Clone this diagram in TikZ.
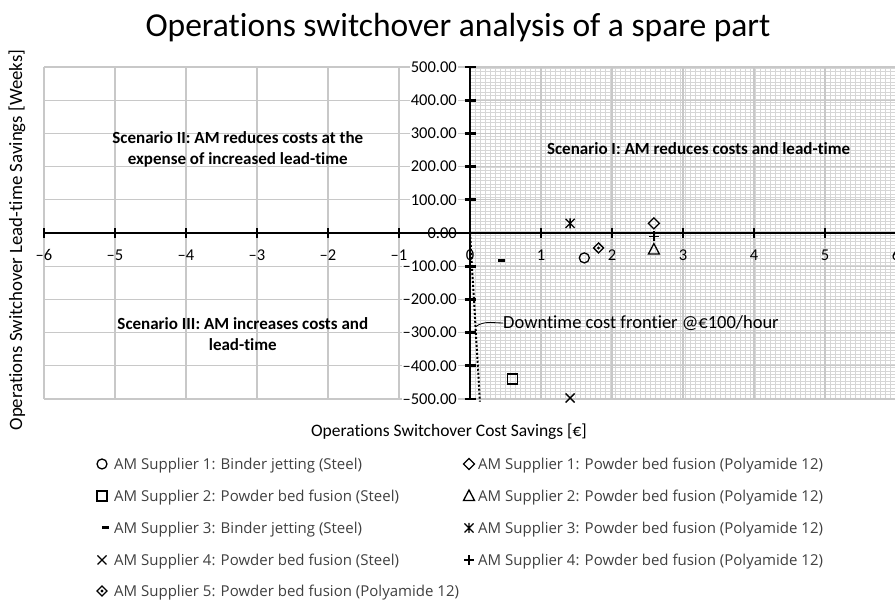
\documentclass[tikz,border=0pt]{standalone}
\usepackage{fontspec}
\setmainfont{Carlito}[Ligatures={NoCommon,NoContextual}]
\newfontfamily\legendfont{Open Sans}
\usetikzlibrary{positioning}

\definecolor{gridgray}{RGB}{200,200,200}
\definecolor{hatchgray}{RGB}{214,214,214}
\definecolor{legendgray}{RGB}{64,64,64}

\begin{document}
\begin{tikzpicture}[
    x=1pt, y=1pt,
    gridline/.style={draw=gridgray, line width=1.2pt},
    hatch/.style={draw=hatchgray, line width=0.5pt},
    axisline/.style={line width=2.8pt, black},
    tickmark/.style={line width=2.8pt, black},
    ticklabel/.style={font=\fontsize{16.5}{16.5}\selectfont, inner sep=1pt},
    scenario/.style={font=\fontsize{17}{21}\selectfont\bfseries, align=center},
    axistitle/.style={font=\fontsize{17.5}{17.5}\selectfont},
    legtext/.style={font=\legendfont\fontsize{15}{15}\selectfont, text=legendgray, anchor=west, inner sep=0pt},
    frontier/.style={line width=2pt, dash pattern=on 2pt off 2pt, black},
    mk/.style={line width=1.3pt, black},
    mkcircle/.pic={\draw[mk] (0,0) circle (5pt);},
    mksquare/.pic={\draw[mk] (-5pt,-5pt) rectangle (5pt,5pt);},
    mkdash/.pic={\fill (-3.5pt,-1.5pt) rectangle (3.5pt,1.5pt);},
    mkcross/.pic={\draw[mk] (-4.5pt,-4.5pt) -- (4.5pt,4.5pt) (-4.5pt,4.5pt) -- (4.5pt,-4.5pt);},
    mkdiamond/.pic={\draw[mk] (0,5.5pt) -- (5.5pt,0) -- (0,-5.5pt) -- (-5.5pt,0) -- cycle;},
    mkdotdiamond/.pic={\draw[mk] (0,5pt) -- (5pt,0) -- (0,-5pt) -- (-5pt,0) -- cycle;
                       \fill (0,1.6pt) -- (1.6pt,0) -- (0,-1.6pt) -- (-1.6pt,0) -- cycle;},
    mktriangle/.pic={\draw[mk] (0,6pt) -- (5.5pt,-4.5pt) -- (-5.5pt,-4.5pt) -- cycle;},
    mkstar/.pic={\draw[mk] (-4.5pt,-4.5pt) -- (4.5pt,4.5pt) (-4.5pt,4.5pt) -- (4.5pt,-4.5pt) (0,-5pt) -- (0,5pt);},
    mkplus/.pic={\draw[mk] (-5pt,0) -- (5pt,0) (0,-5pt) -- (0,5pt);}
]
\useasboundingbox[fill=white] (0,0) rectangle (895,602);

% Title
\node[font=\fontsize{33.5}{33.5}\selectfont] (title) at (458,574) {Operations switchover analysis of a spare part};

% Scenario I region pattern
\draw[hatch, xstep=5, ystep=3.4] (470,203) grid (895,535);

\begin{scope}[shift={(470,369)}, x=71pt, y=0.332pt]
% Grid lines
\foreach \gx in {-6,...,6}
    \draw[gridline] (\gx,-500) -- (\gx,500);
\foreach \gy in {-500,-400,...,500}
    \draw[gridline] (-6,\gy) -- (6,\gy);

% Tick labels
\foreach \gx/\gt in {-6/–6,-5/–5,-4/–4,-3/–3,-2/–2,-1/–1,0/0,1/1,2/2,3/3,4/4,5/5,6/6}
    \node[ticklabel] (xl\gt) at ([yshift=-22pt]\gx,0) {\gt};
\foreach \gy/\gt in {500/500.00,400/400.00,300/300.00,200/200.00,100/100.00,0/0.00,
                     -100/–100.00,-200/–200.00,-300/–300.00,-400/–400.00,-500/–500.00}
    \node[ticklabel, fill=white, anchor=east] (yl\gy) at ([xshift=-12pt]0,\gy) {\gt};

% Axes
\draw[axisline] (-6,0) -- (6.1,0);
\draw[axisline] (0,-500) -- (0,500);
\foreach \gx in {-6,...,6}
    \draw[tickmark] ([yshift=-5pt]\gx,0) -- ([yshift=5pt]\gx,0);
\foreach \gy in {-500,-400,...,500}
    \draw[tickmark] ([xshift=-5.5pt]0,\gy) -- ([xshift=5.5pt]0,\gy);

% Scenario labels
\node[scenario] (scen1) at (3.22,253) {Scenario I: AM reduces costs and lead-time};
\node[scenario] (scen2) at (-3.27,251) {Scenario II: AM reduces costs at the\\expense of increased lead-time};
\node[scenario] (scen3) at (-3.2,-304) {Scenario III: AM increases costs and\\lead-time};

% Downtime cost frontier
\coordinate (dtorigin) at (0,0);
\coordinate (dtend) at (0.14,-508);
\draw[frontier] (dtorigin) -- (dtend);
\coordinate (dtfoot) at (0.08,-282);
\node[font=\fontsize{18.5}{18.5}\selectfont, anchor=west, inner sep=0pt] (dtlabel) at (0.465,-271) {Downtime cost frontier @€100/hour};
\draw[line width=0.8pt] (dtfoot) to[out=35, in=180] (dtlabel.west);

% Data points
\coordinate (s1bj) at (1.61,-75);
\coordinate (s2pbf) at (0.6,-440);
\coordinate (s3bj) at (0.44,-84);
\coordinate (s4pbf) at (1.41,-497);
\coordinate (s5pa) at (1.81,-45);
\coordinate (s1pa) at (2.59,29);
\coordinate (s2pa) at (2.59,-50);
\coordinate (s3pa) at (1.41,29);
\coordinate (s4pa) at (2.59,-10);
\pic at (s1bj) {mkcircle};
\pic at (s2pbf) {mksquare};
\pic at (s3bj) {mkdash};
\pic at (s4pbf) {mkcross};
\pic at (s5pa) {mkdotdiamond};
\pic at (s1pa) {mkdiamond};
\pic at (s2pa) {mktriangle};
\pic at (s3pa) {mkstar};
\pic at (s4pa) {mkplus};
\end{scope}

% Axis titles
\node[axistitle] (xtitle) at (449,170) {Operations Switchover Cost Savings [€]};
\node[axistitle, font=\fontsize{18.8}{18.8}\selectfont, rotate=90] (ytitle) at (17,362) {Operations Switchover Lead-time Savings [Weeks]};

% Legend
\pic at (102,138) {mkcircle};
\node[legtext] (leg1) at (114,136) {AM Supplier 1: Binder jetting (Steel)};
\pic at (102,106) {mksquare};
\node[legtext] (leg2) at (114,104) {AM Supplier 2: Powder bed fusion (Steel)};
\pic at (105,74) {mkdash};
\node[legtext] (leg3) at (114,72) {AM Supplier 3: Binder jetting (Steel)};
\pic at (102,42) {mkcross};
\node[legtext] (leg4) at (114,40) {AM Supplier 4: Powder bed fusion (Steel)};
\pic at (102,11) {mkdotdiamond};
\node[legtext] (leg5) at (114,9) {AM Supplier 5: Powder bed fusion (Polyamide 12)};
\pic at (469,138) {mkdiamond};
\node[legtext] (leg6) at (478,136) {AM Supplier 1: Powder bed fusion (Polyamide 12)};
\pic at (469,106) {mktriangle};
\node[legtext] (leg7) at (478,104) {AM Supplier 2: Powder bed fusion (Polyamide 12)};
\pic at (469,74) {mkstar};
\node[legtext] (leg8) at (478,72) {AM Supplier 3: Powder bed fusion (Polyamide 12)};
\pic at (469,42) {mkplus};
\node[legtext] (leg9) at (478,40) {AM Supplier 4: Powder bed fusion (Polyamide 12)};
\end{tikzpicture}
\end{document}
